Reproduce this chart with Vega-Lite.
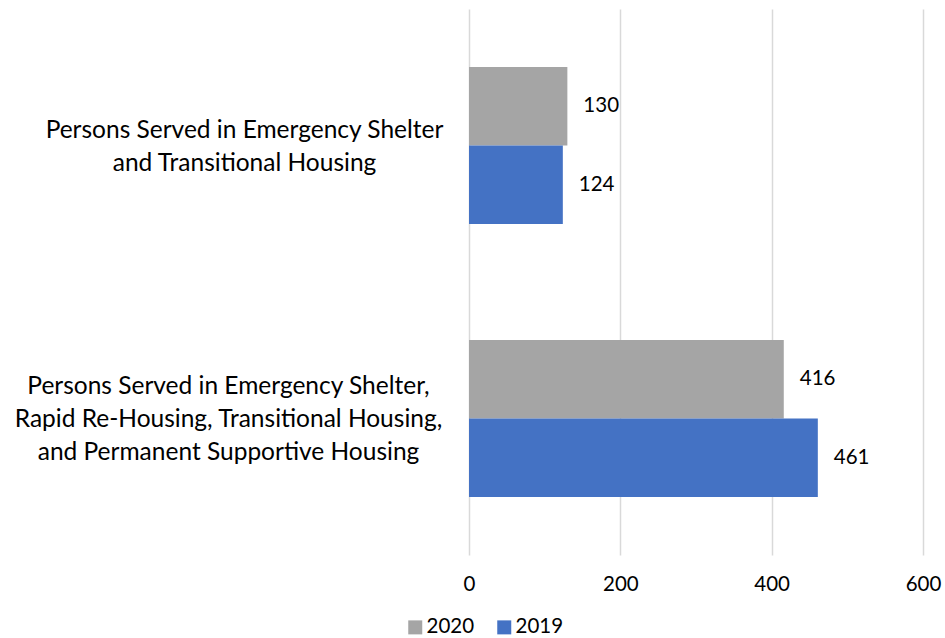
{
  "$schema": "https://vega.github.io/schema/vega-lite/v6.json",
  "width": 454,
  "height": 546,
  "autosize": {"type": "none"},
  "padding": {"left": 469, "top": 9, "right": 22, "bottom": 83},
  "background": "white",
  "config": {"view": {"stroke": null}, "font": "Lato"},
  "data": {
    "values": [
      {"category": "Persons Served in Emergency Shelter\nand Transitional Housing", "year": "2020", "value": 130},
      {"category": "Persons Served in Emergency Shelter\nand Transitional Housing", "year": "2019", "value": 124},
      {"category": "Persons Served in Emergency Shelter,\nRapid Re-Housing, Transitional Housing,\nand Permanent Supportive  Housing", "year": "2020", "value": 416},
      {"category": "Persons Served in Emergency Shelter,\nRapid Re-Housing, Transitional Housing,\nand Permanent Supportive  Housing", "year": "2019", "value": 461}
    ]
  },
  "encoding": {
    "y": {
      "field": "category",
      "type": "nominal",
      "sort": null,
      "scale": {"paddingInner": 0.425, "paddingOuter": 0.2125},
      "axis": {
        "title": null,
        "ticks": false,
        "domain": false,
        "grid": false,
        "labelAlign": "center",
        "labelBaseline": "middle",
        "labelPadding": {"condition": {"test": "indexof(datum.value, 'Rapid') >= 0", "value": 241}, "value": 225},
        "labelOffset": {"condition": {"test": "indexof(datum.value, 'Rapid') >= 0", "value": -32}, "value": -15},
        "labelFontSize": 24.5,
        "labelLineHeight": 33,
        "labelColor": "#000000",
        "labelLimit": 600,
        "labelExpr": "split(datum.label, '\\n')"
      }
    },
    "yOffset": {
      "field": "year",
      "type": "nominal",
      "scale": {"domain": ["2020", "2019"], "paddingInner": 0, "paddingOuter": 0}
    },
    "x": {
      "field": "value",
      "type": "quantitative",
      "scale": {"domain": [0, 600]},
      "axis": {
        "title": null,
        "values": [0, 200, 400, 600],
        "grid": true,
        "gridColor": "#D9D9D9",
        "gridWidth": 1.5,
        "ticks": false,
        "domain": false,
        "labelFontSize": 20.5,
        "labelPadding": 19,
        "labelColor": "#000000",
        "labelFlush": false
      }
    }
  },
  "layer": [
    {
      "mark": {"type": "bar"},
      "encoding": {
        "color": {
          "field": "year",
          "type": "nominal",
          "scale": {"domain": ["2020", "2019"], "range": ["#A5A5A5", "#4472C4"]},
          "legend": {
            "title": null,
            "orient": "none",
            "legendX": -64,
            "legendY": 608,
            "direction": "horizontal",
            "symbolType": "square",
            "symbolSize": 196,
            "symbolStrokeWidth": 0,
            "labelFontSize": 20.5,
            "labelColor": "#000000",
            "labelOffset": 1,
            "columnPadding": 19,
            "padding": 0
          }
        }
      }
    },
    {
      "mark": {"type": "text", "align": "left", "baseline": "middle", "dx": 16, "fontSize": 20.5, "color": "#000000"},
      "encoding": {"text": {"field": "value", "type": "quantitative"}}
    }
  ]
}
